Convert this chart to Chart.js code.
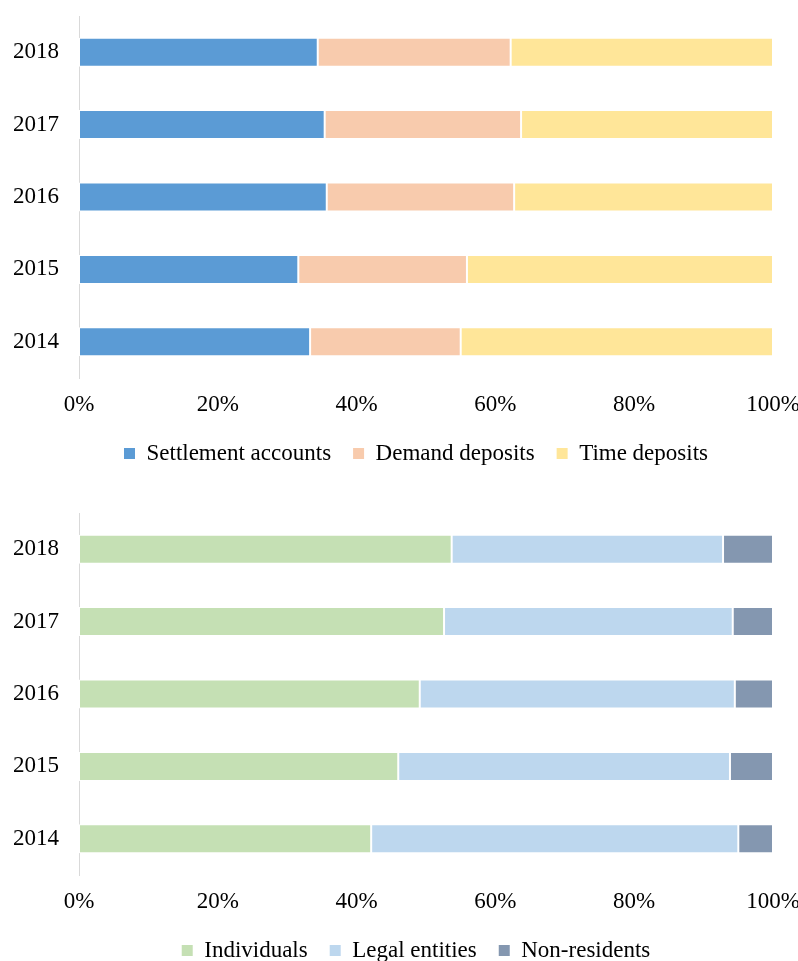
<!DOCTYPE html>
<html>
<head>
<meta charset="utf-8">
<script src="https://cdn.jsdelivr.net/npm/chart.js@4.4.1/dist/chart.umd.min.js"></script>
<style>
    html, body { margin: 0; padding: 0; background: #fff; overflow: hidden; }
    #wrap { position: relative; width: 798px; height: 961px; overflow: hidden; }
    canvas { position: absolute; left: 0; }
    #chart_first { top: 0; }
    #chart_second { top: 497px; }
</style>
</head>
<body>
<div id="wrap">
    <canvas id="chart_first" width="832" height="475"></canvas>
    <canvas id="chart_second" width="832" height="475"></canvas>
</div>
<script>
// years, bottom to top
const years = ['2014', '2015', '2016', '2017', '2018'];

// deposits by type, % of total
const settlement = [33.3, 31.6, 35.7, 35.4, 34.4];
const demand = [21.7, 24.3, 27.0, 28.3, 27.8];
const time_dep = [45.0, 44.1, 37.3, 36.3, 37.8];

// deposits by holder, % of total
const individuals = [42.1, 46.0, 49.1, 52.6, 53.7];
const legal = [52.9, 47.8, 45.4, 41.6, 39.1];
const non_res = [5.0, 6.2, 5.5, 5.8, 7.2];

const x_ticks = [0, 20, 40, 60, 80, 100];

const font_family = '"Liberation Serif", "Times New Roman", serif';
const font_size = 23;

// keep chart.js from growing the plot margins for label overhang
const no_pad = (scale) => {
    scale.paddingTop = 0;
    scale.paddingBottom = 0;
    scale.paddingLeft = 0;
    scale.paddingRight = 0;
};

window.onload = () => {
    const create_chart = (elem_id, series) => {
        var ctx = document.getElementById(elem_id).getContext('2d');
        return new Chart(ctx, {
            type: 'bar',
            data: {
                labels: years,
                datasets: series.map(s => ({
                    label: s.label,
                    data: s.data,
                    backgroundColor: s.color,
                    borderColor: '#ffffff',
                    borderWidth: 1,
                    borderSkipped: false,
                    categoryPercentage: 1,
                    barPercentage: 0.4
                }))
            },
            options: {
                indexAxis: 'y',
                responsive: false,
                animation: false,
                layout: { padding: { top: 16, right: 0, bottom: 0, left: 0 } },
                scales: {
                    x: {
                        stacked: true,
                        min: 0,
                        max: 100,
                        afterBuildTicks: (scale) => { scale.ticks = x_ticks.map(v => ({ value: v })); },
                        afterFit: (scale) => { no_pad(scale); scale.height = 42; },
                        grid: { display: false, drawTicks: false },
                        border: { display: false },
                        ticks: {
                            padding: 13,
                            color: '#000',
                            font: { family: font_family, size: font_size },
                            callback: (v) => v + '%'
                        }
                    },
                    y: {
                        stacked: true,
                        reverse: true,
                        afterFit: (scale) => { no_pad(scale); scale.width = 79; },
                        grid: { display: false, drawTicks: false },
                        border: { display: true, color: '#d9d9d9', width: 1 },
                        ticks: {
                            padding: 20,
                            color: '#000',
                            font: { family: font_family, size: font_size }
                        }
                    },
                    // empty right-hand margin so the legend sits under the plot
                    y_margin: {
                        type: 'category',
                        axis: 'y',
                        position: 'right',
                        afterFit: (scale) => { no_pad(scale); scale.width = 59; },
                        grid: { display: false, drawTicks: false },
                        border: { display: false },
                        ticks: { display: false }
                    }
                },
                plugins: {
                    legend: {
                        position: 'bottom',
                        labels: {
                            boxWidth: 11,
                            boxHeight: 11,
                            padding: 22,
                            color: '#000',
                            font: { family: font_family, size: font_size },
                            generateLabels: (chart) =>
                                Chart.defaults.plugins.legend.labels.generateLabels(chart)
                                    .map(l => ({ ...l, strokeStyle: l.fillStyle, lineWidth: 0 }))
                        }
                    },
                    tooltip: { enabled: false }
                }
            }
        });
    };

    create_chart('chart_first', [
        { label: 'Settlement accounts', data: settlement, color: '#5b9bd5' },
        { label: 'Demand deposits', data: demand, color: '#f8cbad' },
        { label: 'Time deposits', data: time_dep, color: '#ffe699' }
    ]);
    create_chart('chart_second', [
        { label: 'Individuals', data: individuals, color: '#c5e0b4' },
        { label: 'Legal entities', data: legal, color: '#bdd7ee' },
        { label: 'Non-residents', data: non_res, color: '#8497b0' }
    ]);
};
</script>
</body>
</html>
